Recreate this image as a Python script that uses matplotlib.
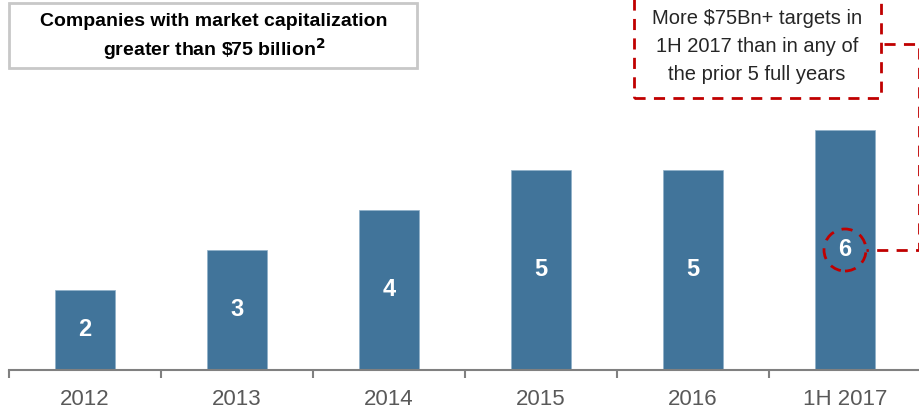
import matplotlib.pyplot as plt
from matplotlib.patches import Rectangle, Ellipse
from matplotlib.lines import Line2D

# data
categories = ['2012', '2013', '2014', '2015', '2016', '1H 2017']
counts = [2, 3, 4, 5, 5, 6]

BAR = '#41749A'
RED = '#C00000'
plt.rcParams['font.family'] = ['Liberation Sans', 'DejaVu Sans']

W, H = 920, 412
fig = plt.figure(figsize=(W / 100, H / 100), dpi=100)


def px(x, y):
    # pixel position (from top-left) -> figure fraction
    return x / W, 1 - y / H


ax = fig.add_axes([9 / W, 42 / H, 912 / W, 370 / H])
x = list(range(len(categories)))
ax.bar(x, counts, width=0.4, color=BAR, edgecolor='#8FB0C8', linewidth=0.5, zorder=2)
for xi, v in zip(x, counts):
    ax.text(xi, v / 2, str(v), ha='center', va='center', color='white',
            fontsize=17, fontweight='bold')

ax.set_xlim(-0.5, len(categories) - 0.5)
ax.set_ylim(0, 9.25)
ax.set_yticks([])
for s in ['top', 'right', 'left']:
    ax.spines[s].set_visible(False)
ax.spines['bottom'].set_color('#808080')
ax.spines['bottom'].set_linewidth(1.5)
ax.set_xticks([i - 0.5 for i in range(len(categories) + 1)])
ax.set_xticklabels([])
ax.set_xticks(x, minor=True)
ax.set_xticklabels(categories, minor=True)
ax.tick_params(axis='x', which='major', length=6, width=1.5, color='#808080', direction='out')
ax.tick_params(axis='x', which='minor', length=0, labelsize=16, labelcolor='#595959', pad=14)

# title box
x0, y0 = px(9, 68)
x1, y1 = px(417, 3)
fig.patches.append(Rectangle((x0, y0), x1 - x0, y1 - y0, transform=fig.transFigure,
                             fill=False, edgecolor='#C8C8C8', linewidth=2))
fig.text(*px(214, 22), 'Companies with market capitalization', ha='center', va='center',
         fontsize=14, fontweight='bold', color='black')
fig.text(*px(214, 49), 'greater than \\$75 billion$^{\\mathbf{2}}$', ha='center', va='center',
         fontsize=14, fontweight='bold', color='black')

# callout box
x0, y0 = px(634, 98)
x1, y1 = px(881, -5)
fig.patches.append(Rectangle((x0, y0), x1 - x0, y1 - y0, transform=fig.transFigure,
                             fill=False, edgecolor=RED, linewidth=2, linestyle=(0, (4, 3))))
for txt, yy in zip(['More $75Bn+ targets in', '1H 2017 than in any of', 'the prior 5 full years'],
                   [18, 47, 75]):
    fig.text(*px(757, yy), txt.replace('$', '\\$'), ha='center', va='center', fontsize=14.5,
             color='#262626')

# circle around last bar label
last = len(counts) - 1
ax.add_patch(Ellipse((last, counts[last] / 2), 42 / 152, 42 / 40, fill=False, edgecolor=RED,
                     linewidth=2, linestyle=(0, (4, 3)), zorder=3))

# connector
cx, cy = ax.transData.transform((last + 21 / 152, counts[last] / 2))
pts = [px(884, 44), px(919, 44), (919 / W, cy / H), (cx / W, cy / H)]
fig.lines.append(Line2D([p[0] for p in pts], [p[1] for p in pts], transform=fig.transFigure,
                        color=RED, linewidth=2, linestyle=(0, (4, 3))))

fig.savefig('out.png', dpi=100)
